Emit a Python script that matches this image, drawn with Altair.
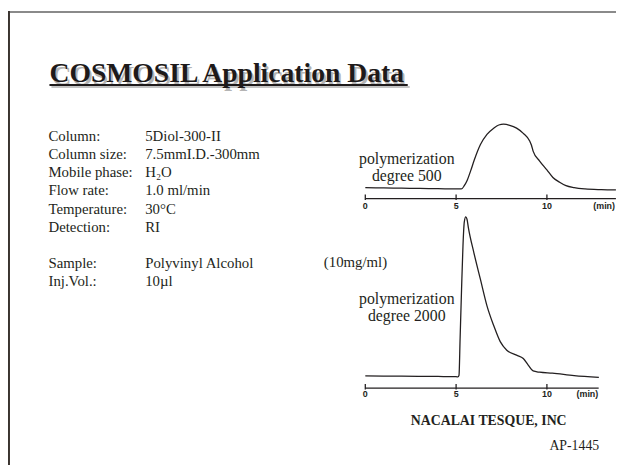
import altair as alt
import pandas as pd

# ---------------- data ----------------
t500 = [0, 1, 2, 3, 4, 5, 5.29, 5.45, 5.6, 5.8, 6.0, 6.34, 6.7, 7.07, 7.35, 7.61, 7.95,
        8.33, 8.7, 9.06, 9.15, 9.24, 9.6, 10.0, 10.33, 10.7, 11.05, 11.5, 12.1, 13.0, 13.8]
r500 = [3, 2.8, 2.5, 2.2, 2, 1.7, 1.7, 5, 10, 20, 31, 46.7, 57, 63.3, 66.5, 67.3, 66.2,
        63.3, 58, 50, 46, 40, 30, 21, 13.3, 8.5, 5, 3, 1.7, 1, 0.7]

t2000 = [0, 2, 4, 5, 5.1, 5.16, 5.22, 5.3, 5.38, 5.45, 5.53, 5.6, 5.68, 5.98, 6.34, 6.7,
         7.07, 7.43, 7.79, 8.33, 8.7, 8.97, 9.24, 9.6, 10.3, 11.5, 12.86]
r2000 = [2.3, 2.0, 1.7, 1.5, 1.3, 3, 40, 90, 135, 158, 163.3, 161, 152, 127, 100, 73.3,
         53.3, 37, 28.3, 23.3, 20, 13.3, 7.3, 6, 5, 2.5, 0.7]

tick_values = [0, 5, 10]
tick_labels = ["0", "5", "10"]
axis_end_top = 13.8
axis_end_bottom = 12.85

cond_labels = ["Column:", "Column size:", "Mobile phase:", "Flow rate:", "Temperature:",
               "Detection:", "Sample:", "Inj.Vol.:"]
cond_values = ["5Diol-300-II", "7.5mmI.D.-300mm", "H\u2082O", "1.0 ml/min", "30\u00b0C",
               "RI", "Polyvinyl Alcohol", "10\u00b5l"]
cond_rows = [0, 1, 2, 3, 4, 5, 7, 8]
conc_text = "(10mg/ml)"

title_text = "COSMOSIL Application Data"
label500 = ["polymerization", "degree 500"]
label2000 = ["polymerization", "degree 2000"]
company = "NACALAI TESQUE, INC"
code = "AP-1445"

# ---------------- layout ----------------
W, H = 616, 460
PX_PER_MIN = 18.4
X0 = 362
xscale = alt.Scale(domain=[-X0 / PX_PER_MIN, (W - X0) / PX_PER_MIN], nice=False, zero=False)

INK = "#231f20"
SERIF = "Liberation Serif"
SANS = "Liberation Sans"

df500 = pd.DataFrame({"t": t500, "r": r500})
df2000 = pd.DataFrame({"t": t2000, "r": r2000})
ticks = pd.DataFrame({"t": tick_values, "lab": tick_labels})
conds = pd.DataFrame({"lab": cond_labels, "val": cond_values, "row": cond_rows})

def yscale_for(zero_y):
    return alt.Scale(domain=[zero_y - H, zero_y], nice=False, zero=False)

trace_top = alt.Chart(df500).mark_line(color=INK, strokeWidth=1.3, interpolate="monotone").encode(
    x=alt.X("t:Q", scale=xscale, axis=None),
    y=alt.Y("r:Q", scale=yscale_for(182), axis=None),
)
trace_bot = alt.Chart(df2000).mark_line(color=INK, strokeWidth=1.3, interpolate="monotone").encode(
    x=alt.X("t:Q", scale=xscale, axis=None),
    y=alt.Y("r:Q", scale=yscale_for(372), axis=None),
)

def time_axis(y_line, end_t, label_y, min_x):
    line = alt.Chart(pd.DataFrame({"a": [0], "b": [end_t]})).mark_rule(color=INK, strokeWidth=1.3).encode(
        x=alt.X("a:Q", scale=xscale, axis=None), x2="b:Q", y=alt.value(y_line))
    tk = alt.Chart(ticks).mark_rule(color=INK, strokeWidth=1.3).encode(
        x=alt.X("t:Q", scale=xscale, axis=None), y=alt.value(y_line - 4), y2=alt.value(y_line + 1.5))
    lab = alt.Chart(ticks).mark_text(font=SANS, fontWeight="bold", fontSize=9, color=INK,
                                     baseline="alphabetic").encode(
        x=alt.X("t:Q", scale=xscale, axis=None), y=alt.value(label_y), text="lab:N")
    unit = alt.Chart(pd.DataFrame({"u": ["(min)"]})).mark_text(
        font=SANS, fontWeight="bold", fontSize=9, color=INK, align="right", baseline="alphabetic").encode(
        x=alt.value(min_x), y=alt.value(label_y), text="u:N")
    return [line, tk, lab, unit]

def text_lines(lines, x, y0, dy, size, weight="normal", align="center"):
    d = pd.DataFrame({"s": lines, "i": list(range(len(lines)))})
    return alt.Chart(d).mark_text(font=SERIF, fontSize=size, fontWeight=weight, color=INK,
                                  align=align, baseline="alphabetic").encode(
        x=alt.value(x),
        y=alt.Y("i:Q", scale=alt.Scale(domain=[0, 1], range=[y0, y0 + dy]), axis=None),
        text="s:N")

rowscale = alt.Scale(domain=[0, 8], range=[132, 278.5])
cond_lab = alt.Chart(conds).mark_text(font=SERIF, fontSize=15, color=INK, align="left",
                                      baseline="alphabetic").encode(
    x=alt.value(41), y=alt.Y("row:Q", scale=rowscale, axis=None), text="lab:N")
cond_val = alt.Chart(conds).mark_text(font=SERIF, fontSize=15, color=INK, align="left",
                                      baseline="alphabetic").encode(
    x=alt.value(139), y=alt.Y("row:Q", scale=rowscale, axis=None), text="val:N")
conc = alt.Chart(pd.DataFrame({"s": [conc_text]})).mark_text(
    font=SERIF, fontSize=15, color=INK, align="left", baseline="alphabetic").encode(
    x=alt.value(320), y=alt.value(259.5), text="s:N")

title_df = pd.DataFrame({"s": [title_text]})
title_shadow = alt.Chart(title_df).mark_text(font=SERIF, fontSize=28, fontWeight="bold",
                                             color="#b4b4b4", align="left", baseline="alphabetic").encode(
    x=alt.value(44), y=alt.value(74.5), text="s:N")
title = alt.Chart(title_df).mark_text(font=SERIF, fontSize=28, fontWeight="bold",
                                      color="#1e1a1a", align="left", baseline="alphabetic").encode(
    x=alt.value(42), y=alt.value(72), text="s:N")
underline_shadow = alt.Chart(title_df).mark_rule(color="#c4c4c4", strokeWidth=2).encode(
    x=alt.value(44), x2=alt.value(407), y=alt.value(77))
underline = alt.Chart(title_df).mark_rule(color="#1e1a1a", strokeWidth=2).encode(
    x=alt.value(42), x2=alt.value(405), y=alt.value(75))

border_top = alt.Chart(title_df).mark_rule(color="#8a8a8a", strokeWidth=2).encode(
    x=alt.value(0), x2=alt.value(W), y=alt.value(1))
border_left = alt.Chart(title_df).mark_rule(color="#3a3430", strokeWidth=2).encode(
    x=alt.value(1), y=alt.value(0), y2=alt.value(H))

company_t = alt.Chart(pd.DataFrame({"s": [company]})).mark_text(
    font=SERIF, fontSize=14, fontWeight="bold", color=INK, align="center", baseline="alphabetic").encode(
    x=alt.value(487), y=alt.value(419), text="s:N")
code_t = alt.Chart(pd.DataFrame({"s": [code]})).mark_text(
    font=SERIF, fontSize=14, color=INK, align="right", baseline="alphabetic").encode(
    x=alt.value(599), y=alt.value(445), text="s:N")

layers = [border_top, border_left, title_shadow, underline_shadow, title, underline,
          cond_lab, cond_val, conc,
          trace_top, trace_bot,
          text_lines(label500, 404, 155, 17.5, 16),
          text_lines(label2000, 404, 297, 17.5, 16),
          company_t, code_t]
layers += time_axis(190, axis_end_top, 200.5, 615)
layers += time_axis(382, axis_end_bottom, 391.5, 598)

chart = alt.layer(*layers).resolve_scale(y="independent").properties(
    width=W, height=H, autosize=alt.AutoSizeParams(type="none"), padding=0,
    background="white",
).configure_view(stroke=None)

chart.save("out.html", embed_options={"renderer": "svg", "actions": False})
